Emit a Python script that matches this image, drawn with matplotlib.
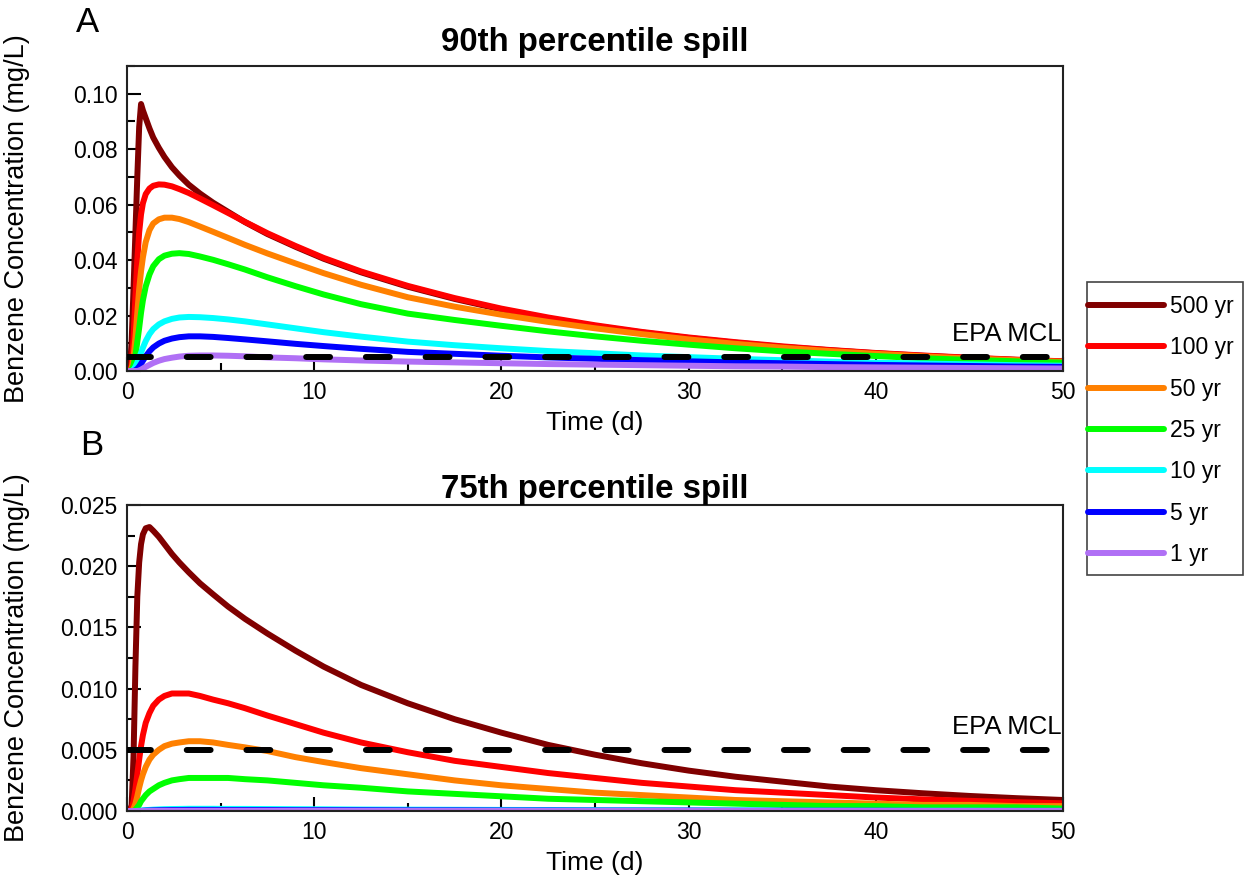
import numpy as np
import matplotlib.pyplot as plt
from matplotlib.patches import Rectangle
from matplotlib.ticker import MultipleLocator

plt.rcParams['font.family'] = ['Liberation Sans', 'DejaVu Sans']

# time grid (days) for the points
t = [0, 0.15, 0.25, 0.35, 0.45, 0.55, 0.65, 0.75, 0.85, 1.0, 1.2, 1.4, 1.7, 2.0,
     2.4, 2.8, 3.3, 3.9, 4.6, 5.4, 6.3, 7.5, 9, 10.5, 12.5, 15, 17.5, 20, 22.5, 25,
     27.5, 30, 32.5, 35, 37.5, 40, 42.5, 45, 47.5, 50]

labels = ['500 yr', '100 yr', '50 yr', '25 yr', '10 yr', '5 yr', '1 yr']
colors = ['#800000', '#ff0000', '#ff8000', '#00ff00', '#00ffff', '#0000ff', '#b070f5']

# panel A - 90th percentile spill (mg/L)
a_500 = [0, 0, 0.011, 0.030, 0.050, 0.070, 0.088, 0.0963, 0.094, 0.0912, 0.0875, 0.0842,
         0.0805, 0.0772, 0.0735, 0.0705, 0.0672, 0.064, 0.0607, 0.0574, 0.0537, 0.0494,
         0.0448, 0.0405, 0.0356, 0.0304, 0.026, 0.0222, 0.019, 0.0162, 0.0139, 0.0119,
         0.0102, 0.0087, 0.0075, 0.0064, 0.0055, 0.0047, 0.004, 0.0034]
a_100 = [0, 0, 0.002, 0.012, 0.027, 0.040, 0.050, 0.0565, 0.0605, 0.0638, 0.0658, 0.0668,
         0.0673, 0.0672, 0.0666, 0.0656, 0.0642, 0.0622, 0.0598, 0.057, 0.0538, 0.0497,
         0.0451, 0.0408, 0.0359, 0.0307, 0.0263, 0.0225, 0.0193, 0.0165, 0.0141, 0.0121,
         0.0104, 0.0089, 0.0076, 0.0065, 0.0056, 0.0048, 0.0041, 0.0035]
a_50 = [0, 0, 0.001, 0.005, 0.012, 0.021, 0.0295, 0.036, 0.041, 0.0465, 0.0508, 0.0532,
        0.0547, 0.0553, 0.0553, 0.0548, 0.0537, 0.0521, 0.0502, 0.048, 0.0455, 0.0424,
        0.0388, 0.0353, 0.0311, 0.0266, 0.0232, 0.0203, 0.0177, 0.0154, 0.0133, 0.0114,
        0.0098, 0.0084, 0.0072, 0.0062, 0.0053, 0.0045, 0.0039, 0.0033]
a_25 = [0, 0, 0.0005, 0.002, 0.0055, 0.0105, 0.0155, 0.021, 0.0255, 0.0305, 0.0348, 0.0378,
        0.0403, 0.0416, 0.0423, 0.0425, 0.0422, 0.0413, 0.0401, 0.0385, 0.0366, 0.0338,
        0.0306, 0.0276, 0.0241, 0.0207, 0.0184, 0.0163, 0.0143, 0.0125, 0.0109, 0.0095,
        0.0082, 0.0071, 0.0062, 0.0054, 0.0046, 0.004, 0.0035, 0.003]
a_10 = [0, 0, 0, 0.0005, 0.0015, 0.003, 0.0048, 0.0066, 0.0084, 0.0108, 0.0133, 0.0151,
        0.0168, 0.0179, 0.0188, 0.0193, 0.0195, 0.0194, 0.0191, 0.0186, 0.0179, 0.0168,
        0.0154, 0.014, 0.0124, 0.0106, 0.0093, 0.0082, 0.0072, 0.0064, 0.0056, 0.005,
        0.0044, 0.0039, 0.0034, 0.003, 0.0027, 0.0024, 0.0021, 0.0019]
a_5 = [0, 0, 0, 0, 0.0003, 0.0008, 0.0016, 0.0026, 0.0037, 0.0053, 0.0071, 0.0085,
       0.0099, 0.0109, 0.0117, 0.0122, 0.0125, 0.0125, 0.0123, 0.0119, 0.0114, 0.0107,
       0.0098, 0.009, 0.008, 0.0069, 0.0062, 0.0055, 0.0049, 0.0044, 0.0039, 0.0035,
       0.0031, 0.0028, 0.0025, 0.0022, 0.002, 0.0018, 0.0016, 0.0015]
a_1 = [0, 0, 0, 0, 0, 0, 0.0002, 0.0005, 0.0009, 0.0015, 0.0022, 0.0029,
       0.0037, 0.0043, 0.0048, 0.0052, 0.0055, 0.0056, 0.0056, 0.0055, 0.0053, 0.0049,
       0.0046, 0.0042, 0.0038, 0.0034, 0.0031, 0.0028, 0.0025, 0.0023, 0.0021, 0.0019,
       0.0017, 0.0016, 0.0014, 0.0013, 0.0012, 0.0011, 0.001, 0.0009]

# panel B - 75th percentile spill (mg/L)
b_500 = [0, 0, 0.0005, 0.0045, 0.0118, 0.0175, 0.0203, 0.0218, 0.0226, 0.0231, 0.0232, 0.0229,
         0.0224, 0.0218, 0.021, 0.0203, 0.0195, 0.0186, 0.0177, 0.0167, 0.0157, 0.0145,
         0.0131, 0.0118, 0.0103, 0.0088, 0.0075, 0.0064, 0.0054, 0.0046, 0.0039, 0.0033,
         0.0028, 0.0024, 0.002, 0.0017, 0.00145, 0.00123, 0.00105, 0.0009]
b_100 = [0, 0, 0.0002, 0.0008, 0.0018, 0.003, 0.0042, 0.0053, 0.0062, 0.0072, 0.008, 0.0086,
         0.0091, 0.0094, 0.0096, 0.0096, 0.0096, 0.0094, 0.0091, 0.0088, 0.0084, 0.0078,
         0.0071, 0.0064, 0.0056, 0.0048, 0.0041, 0.0036, 0.0031, 0.0027, 0.0023, 0.002,
         0.0017, 0.0015, 0.0013, 0.0011, 0.00095, 0.00083, 0.00072, 0.00063]
b_50 = [0, 0, 0, 0.0002, 0.0006, 0.0012, 0.0019, 0.0025, 0.003, 0.0036, 0.0042, 0.0046,
        0.005, 0.0053, 0.0055, 0.0056, 0.0057, 0.0057, 0.0056, 0.0054, 0.0052, 0.0049,
        0.0044, 0.004, 0.0035, 0.003, 0.0025, 0.0021, 0.0018, 0.0015, 0.0013, 0.0011,
        0.0009, 0.0008, 0.0007, 0.0006, 0.0005, 0.0005, 0.0004, 0.0004]
b_25 = [0, 0, 0, 0, 0.0001, 0.0003, 0.0005, 0.0008, 0.001, 0.0013, 0.0016, 0.0018,
        0.0021, 0.0023, 0.0025, 0.0026, 0.0027, 0.0027, 0.0027, 0.0027, 0.0026, 0.0025,
        0.0023, 0.0021, 0.0019, 0.0016, 0.0014, 0.0012, 0.001, 0.0009, 0.0008, 0.0007,
        0.0006, 0.0005, 0.0004, 0.0004, 0.0003, 0.0003, 0.0003, 0.0002]
b_10 = [0, 0, 0, 0, 0, 0.00001, 0.00002, 0.00003, 0.00005, 0.00007, 0.00009, 0.00011,
        0.00013, 0.00015, 0.00016, 0.00017, 0.00018, 0.00018, 0.00018, 0.00017, 0.00017, 0.00016,
        0.00015, 0.00014, 0.00012, 0.00011, 0.0001, 0.00009, 0.00008, 0.00007, 0.00006, 0.00005,
        0.00005, 0.00004, 0.00004, 0.00003, 0.00003, 0.00003, 0.00002, 0.00002]
b_5 = [0, 0, 0, 0, 0, 0, 0.00001, 0.00001, 0.00002, 0.00003, 0.00004, 0.00005,
       0.00006, 0.00007, 0.00008, 0.00008, 0.00009, 0.00009, 0.00009, 0.00008, 0.00008, 0.00008,
       0.00007, 0.00007, 0.00006, 0.00005, 0.00005, 0.00004, 0.00004, 0.00003, 0.00003, 0.00003,
       0.00002, 0.00002, 0.00002, 0.00002, 0.00001, 0.00001, 0.00001, 0.00001]
b_1 = [0, 0, 0, 0, 0, 0, 0, 0, 0, 0, 0.00001, 0.00001,
       0.00001, 0.00002, 0.00002, 0.00002, 0.00002, 0.00002, 0.00002, 0.00002, 0.00002, 0.00002,
       0.00002, 0.00002, 0.00001, 0.00001, 0.00001, 0.00001, 0.00001, 0.00001, 0.00001, 0.00001,
       0, 0, 0, 0, 0, 0, 0, 0]

mcl = 0.005  # EPA maximum contaminant level for benzene

W, H = 1249, 880
fig = plt.figure(figsize=(W / 100, H / 100), dpi=100)

def px_axes(left, top, right, bottom):
    return fig.add_axes([left / W, 1 - bottom / H, (right - left) / W, (bottom - top) / H])

def panel(ax, series, title, ymax, ymajor, yminor, fmt, title_pad):
    lines = []
    for y, c, lab in zip(series, colors, labels):
        ln, = ax.plot(t, y, color=c, lw=4.3, solid_capstyle='round',
                      solid_joinstyle='round', label=lab)
        lines.append(ln)
    ax.axhline(mcl, color='black', lw=4.3, dashes=(4.0, 6.0),
               dash_capstyle='round', zorder=5)
    ax.annotate('EPA MCL', xy=(50, mcl), xytext=(-1, 8), textcoords='offset points',
                ha='right', va='bottom', fontsize=18.5)
    ax.set_xlim(0, 50)
    ax.set_ylim(0, ymax)
    ax.xaxis.set_major_locator(MultipleLocator(10))
    ax.xaxis.set_minor_locator(MultipleLocator(5))
    ax.yaxis.set_major_locator(MultipleLocator(ymajor))
    ax.yaxis.set_minor_locator(MultipleLocator(yminor))
    ax.yaxis.set_major_formatter(plt.FormatStrFormatter(fmt))
    ax.tick_params(which='both', direction='in', top=False, right=False,
                   width=1.5, labelsize=16.5, pad=7)
    ax.tick_params(which='major', length=10)
    ax.tick_params(which='minor', length=6)
    for s in ax.spines.values():
        s.set_linewidth(1.5)
        s.set_color('#222222')
    ax.set_xlabel('Time (d)', fontsize=19, labelpad=5)
    ax.set_ylabel('Benzene Concentration (mg/L)', fontsize=19.5)
    ax.yaxis.set_label_coords(-0.104, 0.5)
    ax.set_title(title, fontsize=23.8, fontweight='bold', pad=title_pad)
    return lines

ax_a = px_axes(127, 66, 1063, 371)
ax_b = px_axes(127, 505, 1063, 811)

lines = panel(ax_a, [a_500, a_100, a_50, a_25, a_10, a_5, a_1],
              '90th percentile spill', 0.11, 0.02, 0.01, '%.2f', 11)
panel(ax_b, [b_500, b_100, b_50, b_25, b_10, b_5, b_1],
      '75th percentile spill', 0.025, 0.005, 0.0025, '%.3f', 3)

fig.text(88 / W, 1 - 22 / H, 'A', fontsize=25, ha='center', va='center')
fig.text(92 / W, 1 - 445 / H, 'B', fontsize=25, ha='center', va='center')

# legend box drawn separately so its padding can match the original
fig.add_artist(Rectangle((1087 / W, 1 - 575 / H), 156 / W, 293 / H,
                         transform=fig.transFigure, fill=False,
                         edgecolor='#444444', lw=1.2))
leg = fig.legend(lines, labels, loc='upper left',
                 bbox_to_anchor=(1088 / W, 1 - 295 / H), fontsize=16.5,
                 handlelength=3.3, handletextpad=0.3, labelspacing=0.8,
                 borderaxespad=0, borderpad=0, frameon=False)

fig.savefig('out.png', dpi=100)
